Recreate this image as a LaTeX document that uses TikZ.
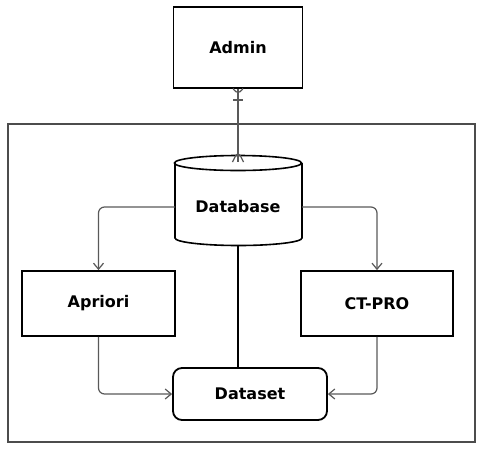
\documentclass[tikz,border=0pt]{standalone}
\usepackage{fontspec}
\setmainfont{DejaVu Sans}
\usetikzlibrary{arrows.meta}
\begin{document}
\begin{tikzpicture}[x=1pt,y=-1pt,
  box/.style={draw=black, line width=1.8pt, fill=white, inner sep=0pt,
    font=\fontsize{16}{19}\selectfont\bfseries},
  link/.style={draw=black!65, line width=1.2pt, rounded corners=6pt},
  flow/.style={link, -{Straight Barb[length=6pt,width=10pt,line width=1.2pt]}},
  lbl/.style={inner sep=0pt, font=\fontsize{16}{19}\selectfont\bfseries}]
\useasboundingbox (0,0) rectangle (477,451);

% system boundary
\node[draw=black!70, line width=2pt, minimum width=467pt, minimum height=318pt,
  inner sep=0pt] (sys) at (241.5,283) {};

% actor
\node[box, minimum width=129pt, minimum height=81pt] (admin) at (238,47.5) {Admin};

% database cylinder
\node[inner sep=0pt, minimum width=127pt, minimum height=90pt] (db) at (238,200) {};
\fill[white] (175,163) -- (175,238) arc[start angle=180, end angle=360,
  x radius=63.5pt, y radius=7.5pt] -- (302,163) -- cycle;
\draw[line width=1.6pt] (175,163) -- (175,238) arc[start angle=180, end angle=360,
  x radius=63.5pt, y radius=7.5pt] -- (302,163);
\draw[line width=1.6pt, fill=white] (238,163) ellipse[x radius=63.5pt, y radius=7.5pt];
\node[lbl] (dbt) at (238,207) {Database};
\coordinate (dbL) at (175,207);
\coordinate (dbR) at (302,207);
\coordinate (dbTop) at (238,155.5);
\coordinate (dbBot) at (238,245.5);

% algorithms and output
\node[box, minimum width=153pt, minimum height=65pt] (ap) at (98.5,303.5) {Apriori};
\node[box, minimum width=152pt, minimum height=65pt] (ct) at (377,303.5) {CT-PRO};
\node[box, rounded corners=9pt, minimum width=154pt, minimum height=52pt]
  (ds) at (250,394) {Dataset};

% admin to database relation (one-or-many to many)
\draw[link] (admin.south) -- (dbTop);
\draw[link] (233,88.5) -- (238,95) -- (243,88.5);
\draw[link] (233,100) -- (243,100);
\draw[link] (232.5,162) -- (238,151) -- (243.5,162);
\draw[link] (238,151) -- (238,162);

% data flow
\draw[flow] (dbL) -| (ap.north);
\draw[flow] (dbR) -| (ct.north);
\draw[line width=1.6pt] (dbBot) -- (dbBot |- ds.north);
\draw[flow] (ap.south) |- (ds.west);
\draw[flow] (ct.south) |- (ds.east);
\end{tikzpicture}
\end{document}
